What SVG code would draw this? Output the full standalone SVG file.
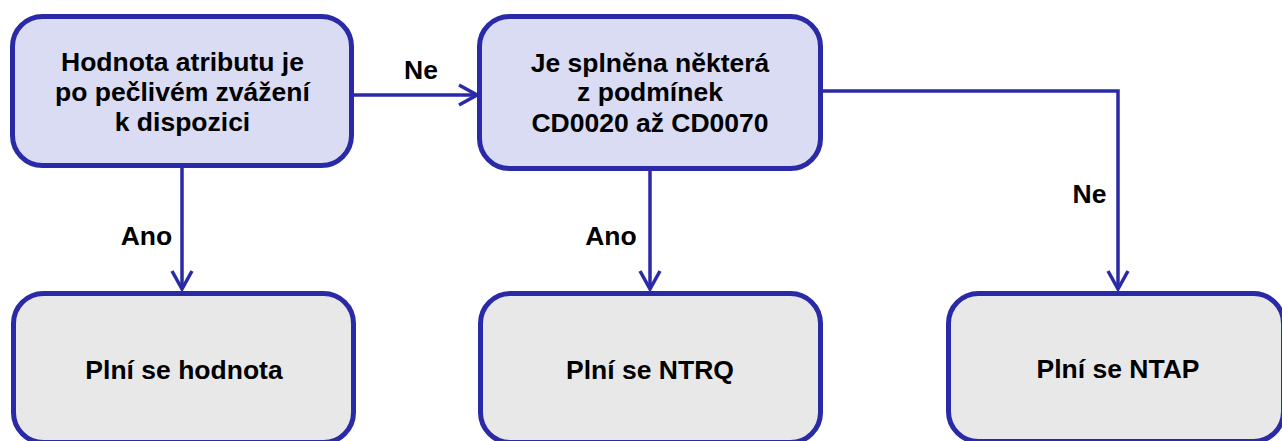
<svg xmlns="http://www.w3.org/2000/svg" width="1282" height="441" viewBox="0 0 1282 441">
<style>
.q{fill:#D9DCF2;stroke:#2A2AA8;stroke-width:5}
.r{fill:#E8E8E8;stroke:#2A2AA8;stroke-width:5}
.t{font-family:"Liberation Sans",Arial,sans-serif;font-weight:bold;font-size:26.5px;fill:#000;text-anchor:middle}
.c{fill:none;stroke:#2A2AA8;stroke-width:3.5}
</style>
<defs>
<marker id="a" viewBox="0 0 22 24" refX="20" refY="12" markerWidth="22" markerHeight="24" markerUnits="userSpaceOnUse" orient="auto">
<path d="M2,2 L20,12 L2,22" fill="none" stroke="#2A2AA8" stroke-width="3.5"/>
</marker>
</defs>
<rect width="1282" height="441" fill="#fff"/>
<g id="connectors">
<path class="c" d="M182,168 V289" marker-end="url(#a)"/>
<path class="c" d="M354,95 H477" marker-end="url(#a)"/>
<path class="c" d="M650,171 V289" marker-end="url(#a)"/>
<path class="c" d="M823,91 H1118 V289" marker-end="url(#a)"/>
<text class="t" x="421" y="79">Ne</text>
<text class="t" x="146.5" y="245">Ano</text>
<text class="t" x="611" y="245">Ano</text>
<text class="t" x="1089.5" y="203">Ne</text>
</g>
<g id="n1">
<rect class="q" x="12.5" y="16.5" width="339" height="149" rx="30"/>
<text class="t" x="182.5" y="71">Hodnota atributu je</text>
<text class="t" x="182.5" y="101">po pečlivém zvážení</text>
<text class="t" x="182.5" y="131">k dispozici</text>
</g>
<g id="n2">
<rect class="q" x="479.5" y="16.5" width="341" height="152" rx="30"/>
<text class="t" x="650" y="72">Je splněna některá</text>
<text class="t" x="650" y="101">z podmínek</text>
<text class="t" x="650" y="132">CD0020 až CD0070</text>
</g>
<g id="n3">
<rect class="r" x="13.5" y="293.5" width="340" height="149" rx="30"/>
<text class="t" x="184" y="379">Plní se hodnota</text>
</g>
<g id="n4">
<rect class="r" x="480.5" y="293.5" width="340" height="149" rx="30"/>
<text class="t" x="650" y="379">Plní se NTRQ</text>
</g>
<g id="n5">
<rect class="r" x="948.5" y="293.5" width="335" height="148" rx="30"/>
<text class="t" x="1118" y="378">Plní se NTAP</text>
</g>
</svg>
